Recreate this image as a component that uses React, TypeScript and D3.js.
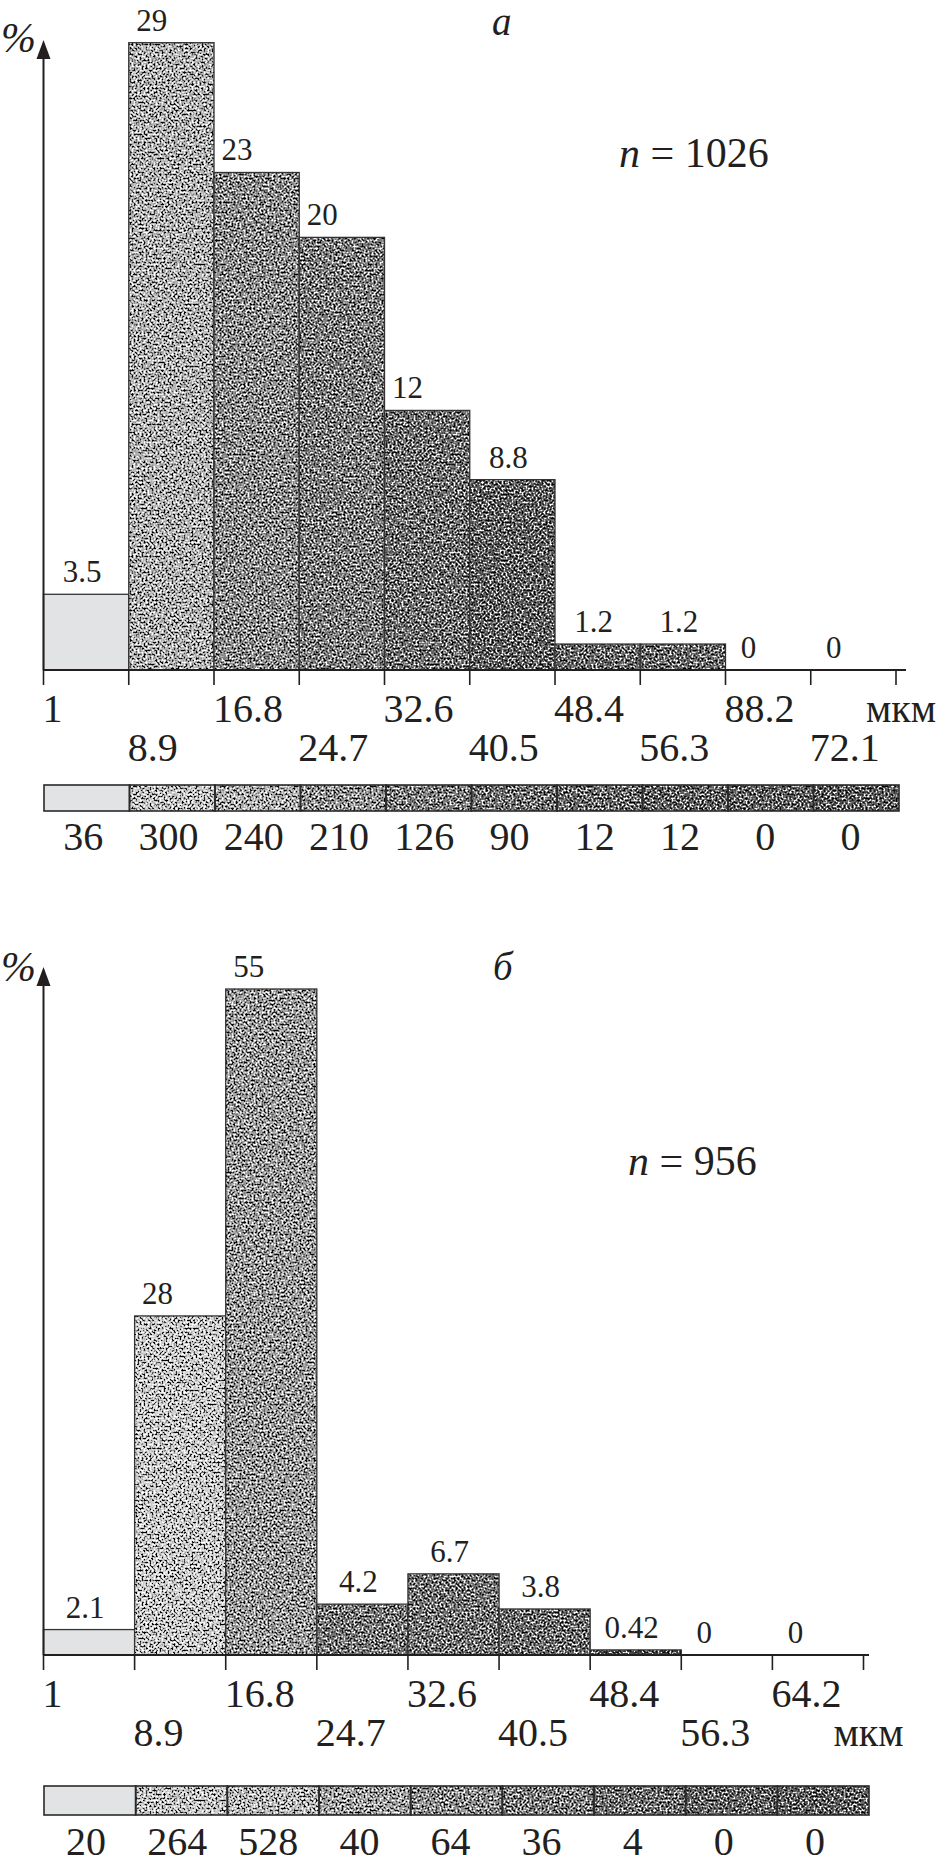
import React from "react";
import * as d3 from "d3";

// ---------- DATA ----------
const binLabelsA = ["1", "8.9", "16.8", "24.7", "32.6", "40.5", "48.4", "56.3", "88.2", "72.1"];
const percentA = [3.5, 29, 23, 20, 12, 8.8, 1.2, 1.2, 0, 0];
const countsA = [36, 300, 240, 210, 126, 90, 12, 12, 0, 0];
const sampleSizeA = 1026;

const binLabelsB = ["1", "8.9", "16.8", "24.7", "32.6", "40.5", "48.4", "56.3", "64.2"];
const percentB = [2.1, 28, 55, 4.2, 6.7, 3.8, 0.42, 0, 0];
const countsB = [20, 264, 528, 40, 64, 36, 4, 0, 0];
const sampleSizeB = 956;

const unitLabel = "мкм";
const yUnit = "%";
const panelLetters = ["а", "б"];

// ---------- STYLES ----------
const barShadesA = ["#e2e3e5", "#b2b2b2", "#8a8a8a", "#7a7a7a", "#6a6a6a", "#5a5a5a", "#666666", "#666666", "#666", "#666"];
const legendShadesA = ["#e2e3e5", "#c4c4c4", "#b0b0b0", "#929292", "#7c7c7c", "#6e6e6e", "#666666", "#5c5c5c", "#5c5c5c", "#565656"];
const barShadesB = ["#e2e3e5", "#cccccc", "#9a9a9a", "#747474", "#707070", "#686868", "#444444", "#666", "#666"];
const legendShadesB = ["#e2e3e5", "#c8c8c8", "#bcbcbc", "#a0a0a0", "#8c8c8c", "#7c7c7c", "#6c6c6c", "#606060", "#5a5a5a"];

const FONT = "'Liberation Serif', 'Times New Roman', serif";
const INK = "#231f20";

const layoutA = {
  x0: 43.5, x1: 896, axisEnd: 906, base: 670, yTopPx: 42.7, arrowTip: 40,
  lx0: 44, lx1: 899, ly: 785, lh: 26, countBase: 850,
  letterX: 492, letterBase: 35, nX: 619, nBase: 167, pctBase: 52,
};
const layoutB = {
  x0: 43.5, x1: 863.5, axisEnd: 869, base: 1655, yTopPx: 989, arrowTip: 967,
  lx0: 44, lx1: 869, ly: 1786, lh: 29, countBase: 1855,
  letterX: 493, letterBase: 980, nX: 628, nBase: 1175, pctBase: 981,
};

function Panel({ letter, labels, percents, counts, n, L, barShades, legendShades }: any) {
  const nb = percents.length;
  const x = d3.scaleLinear().domain([0, nb]).range([L.x0, L.x1]);
  const y = d3.scaleLinear().domain([0, d3.max(percents) as number]).range([L.base, L.yTopPx]);
  const lx = d3.scaleLinear().domain([0, nb]).range([L.lx0, L.lx1]);
  const ticks = d3.range(nb + 1);

  return (
    <g>
      {/* bars */}
      {percents.map((v: number, i: number) => {
        if (v <= 0) return null;
        const x0 = x(i), x1 = x(i + 1), yt = y(v);
        return (
          <g key={"b" + i}>
            <rect x={x0} y={yt} width={x1 - x0} height={L.base - yt} fill={barShades[i]}
              filter={i === 0 ? undefined : "url(#grain)"} />
            <rect x={x0} y={yt} width={x1 - x0} height={L.base - yt} fill="none" stroke="#333" strokeWidth={1.3} />
          </g>
        );
      })}
      {/* value labels */}
      {percents.map((v: number, i: number) => {
        const x0 = x(i), x1 = x(i + 1);
        const cx = Number.isInteger(v) ? x0 + 23 : (x0 + x1) / 2 - 4;
        return (
          <text key={"v" + i} x={cx} y={y(v) - 12} textAnchor="middle" fontSize={31} fontFamily={FONT} fill={INK}>
            {String(v)}
          </text>
        );
      })}
      {/* y axis with arrow */}
      <line x1={L.x0} x2={L.x0} y1={L.base} y2={L.arrowTip + 10} stroke={INK} strokeWidth={2} />
      <path d={`M${L.x0},${L.arrowTip} L${L.x0 - 7},${L.arrowTip + 19} L${L.x0 + 7},${L.arrowTip + 19} Z`} fill={INK} />
      <text x={1} y={L.pctBase} fontSize={42} fontStyle="italic" fontFamily={FONT} fill={INK}>{yUnit}</text>
      {/* x axis */}
      <line x1={L.x0} x2={L.axisEnd} y1={L.base} y2={L.base} stroke={INK} strokeWidth={2} />
      {ticks.map((t) => (
        <line key={"t" + t} x1={x(t)} x2={x(t)} y1={L.base} y2={L.base + 15} stroke={INK} strokeWidth={1.6} />
      ))}
      {labels.map((s: string, i: number) => (
        <text key={"l" + i} x={x(i) - 1} y={L.base + (i % 2 === 0 ? 52 : 91)} fontSize={40} fontFamily={FONT} fill={INK}>
          {s}
        </text>
      ))}
      <text x={x(nb) - 30} y={L.base + (nb % 2 === 0 ? 52 : 91)} fontSize={40} fontFamily={FONT} fill={INK}>
        {unitLabel}
      </text>
      {/* legend strip */}
      {counts.map((c: number, i: number) => (
        <rect key={"lg" + i} x={lx(i)} y={L.ly} width={lx(i + 1) - lx(i)} height={L.lh} fill={legendShades[i]}
          filter={i === 0 ? undefined : "url(#grain)"} />
      ))}
      {counts.map((c: number, i: number) => (
        <rect key={"lgs" + i} x={lx(i)} y={L.ly} width={lx(i + 1) - lx(i)} height={L.lh} fill="none" stroke="#2a2a2a" strokeWidth={1.6} />
      ))}
      {counts.map((c: number, i: number) => (
        <text key={"c" + i} x={(x(i) + x(i + 1)) / 2 - 3} y={L.countBase} textAnchor="middle" fontSize={40} fontFamily={FONT} fill={INK}>
          {String(c)}
        </text>
      ))}
      {/* panel letter and sample size */}
      <text x={L.letterX} y={L.letterBase} fontSize={39} fontStyle="italic" fontFamily={FONT} fill={INK}>{letter}</text>
      <text x={L.nX} y={L.nBase} fontSize={42} fontFamily={FONT} fill={INK}>
        <tspan fontStyle="italic">n</tspan>
        <tspan> = {n}</tspan>
      </text>
    </g>
  );
}

export default function App() {
  return (
    <svg width={942} height={1868} viewBox="0 0 942 1868"
      style={{ position: "absolute", left: 0, top: 0, background: "#fff" }}>
      <defs>
        <filter id="grain" x="0" y="0" width="1" height="1" colorInterpolationFilters="sRGB">
          <feTurbulence type="fractalNoise" baseFrequency="0.5" numOctaves={2} seed={7} result="n" />
          <feColorMatrix in="n" type="matrix"
            values="2.6 0 0 0 -0.8  2.6 0 0 0 -0.8  2.6 0 0 0 -0.8  0 0 0 0 1" result="g" />
          <feBlend in="SourceGraphic" in2="g" mode="overlay" result="b" />
          <feComposite in="b" in2="SourceGraphic" operator="in" />
        </filter>
      </defs>
      <rect x={0} y={0} width={942} height={1868} fill="#fff" />
      <Panel letter={panelLetters[0]} labels={binLabelsA} percents={percentA} counts={countsA} n={sampleSizeA}
        L={layoutA} barShades={barShadesA} legendShades={legendShadesA} />
      <Panel letter={panelLetters[1]} labels={binLabelsB} percents={percentB} counts={countsB} n={sampleSizeB}
        L={layoutB} barShades={barShadesB} legendShades={legendShadesB} />
    </svg>
  );
}
